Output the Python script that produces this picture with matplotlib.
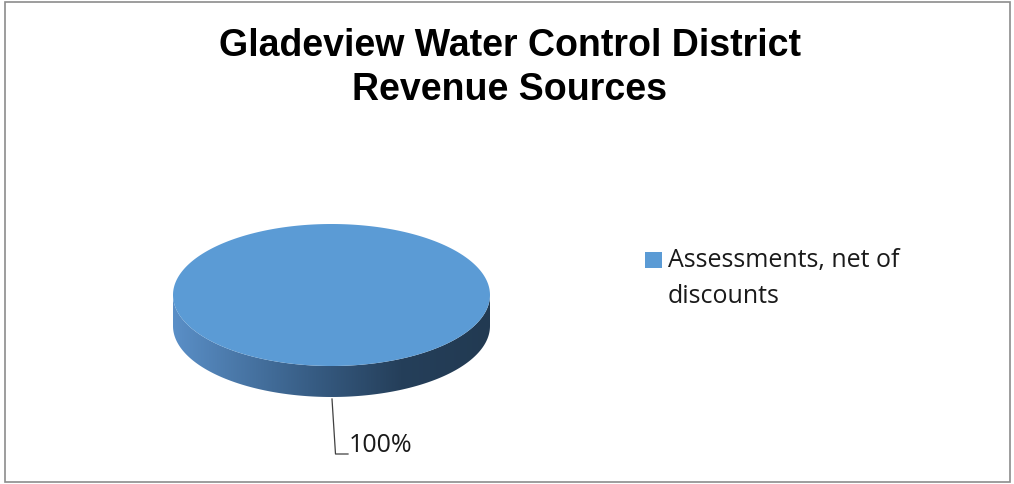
import numpy as np
import matplotlib
matplotlib.use("Agg")
import matplotlib.pyplot as plt
from matplotlib.patches import Polygon, Rectangle
from matplotlib.colors import LinearSegmentedColormap

# data
categories = ["Assessments, net of discounts"]
values = [100.0]
colors = ["#5B9BD5"]

title = "Gladeview Water Control District\nRevenue Sources"

fig = plt.figure(figsize=(10.14, 4.85), dpi=100)
ax = fig.add_axes([0, 0, 1, 1])
ax.set_xlim(0, 1014)
ax.set_ylim(485, 0)
ax.axis("off")

# chart border
ax.add_patch(Rectangle((5, 3), 1005, 480, fill=False, ec="#8c8c8c", lw=1.2))

ax.text(510, 68, title, ha="center", va="center", fontsize=27, fontweight="bold",
        family="Liberation Sans", linespacing=1.3)

# 3d pie geometry
cx, cy, rx, ry, depth = 331.5, 296, 158.5, 71, 31
fracs = np.array(values) / sum(values)

# side wall (front half) with a gradient
t = np.linspace(0, np.pi, 200)
top_arc = np.column_stack([cx + rx * np.cos(t), cy + ry * np.sin(t)])
bot_arc = top_arc[::-1] + [0, depth]
side = Polygon(np.vstack([top_arc, bot_arc]), closed=True, fc="none", ec="none")
ax.add_patch(side)
cmap = LinearSegmentedColormap.from_list(
    "side", [(0, "#5a8fc7"), (0.45, "#365b82"), (0.72, "#253f5a"), (1, "#223a52")])
grad = np.linspace(0, 1, 256).reshape(1, -1)
im = ax.imshow(grad, cmap=cmap, extent=[cx - rx, cx + rx, cy + ry + depth, cy - 5],
               aspect="auto", zorder=2)
im.set_clip_path(side)

# top faces
start = 0.0
for f, c in zip(fracs, colors):
    a = np.linspace(start, start + 2 * np.pi * f, 300)
    pts = np.column_stack([cx + rx * np.cos(a), cy + ry * np.sin(a)])
    if f < 1:
        pts = np.vstack([[cx, cy], pts])
    ax.add_patch(Polygon(pts, closed=True, fc=c, ec="none", zorder=3))
    start += 2 * np.pi * f

# data label with leader line
ax.plot([332, 335.5, 348], [400, 455, 455], color="#404040", lw=0.9, zorder=4)
ax.text(349, 446, f"{values[0] / sum(values) * 100:.0f}%", fontsize=18, family="Open Sans",
        ha="left", va="center", color="#1a1a1a")

# legend
ax.add_patch(Rectangle((645, 253), 17, 16, fc=colors[0], ec="none"))
ax.text(668, 261, "Assessments, net of", fontsize=18, family="Open Sans",
        ha="left", va="center", color="#1a1a1a")
ax.text(668, 297, "discounts", fontsize=18, family="Open Sans",
        ha="left", va="center", color="#1a1a1a")

fig.savefig("out.png", dpi=100)
